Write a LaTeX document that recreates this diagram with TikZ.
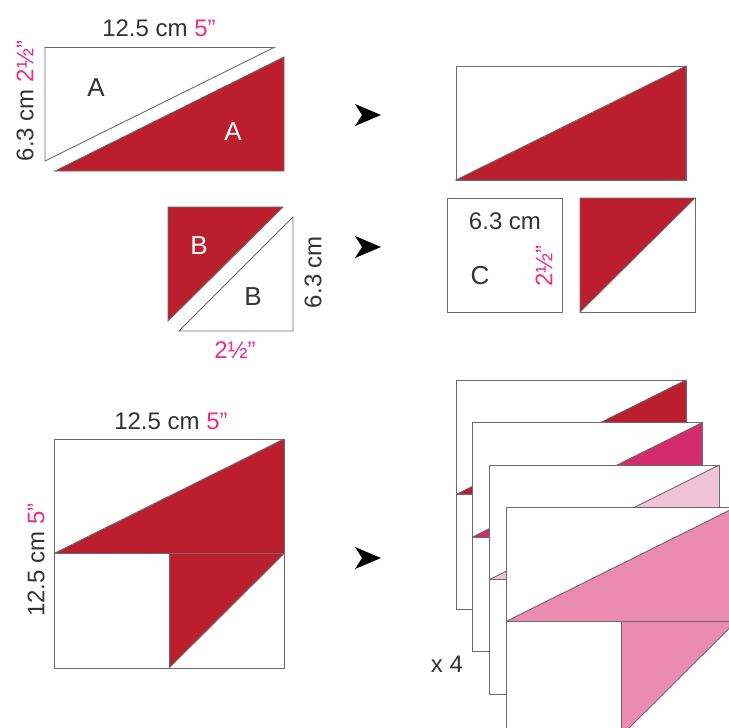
\documentclass[tikz,border=0pt]{standalone}
\usepackage{fontspec}
\setmainfont{Liberation Sans}
\definecolor{qred}{HTML}{BB1E2D}
\definecolor{qmag}{HTML}{D42A6E}
\definecolor{qlpink}{HTML}{F0C3D6}
\definecolor{qmpink}{HTML}{EC8BB0}
\definecolor{qtext}{HTML}{E8308A}
\definecolor{qline}{HTML}{6E6A6C}
\definecolor{qink}{HTML}{333333}
\tikzset{
  piece/.style={draw=qline, line width=0.9pt, line join=miter},
  lbl/.style={text=qink, font=\fontsize{24}{28}\selectfont, inner sep=0pt},
  letter/.style={font=\fontsize{26}{30}\selectfont, inner sep=0pt},
  arrowmark/.style={fill=black},
}
\newcommand{\pk}[1]{{\color{qtext}#1}}
\newcommand{\qblock}[3]{%
  \begin{scope}[shift={(#1,#2)}]
    \fill[white] (0,0) rectangle (230,229);
    \fill[#3] (0,114.5) -- (230,0) -- (230,114.5) -- (115,229) -- (115,114.5) -- cycle;
    \draw[piece] (0,0) rectangle (230,229);
    \draw[piece] (0,114.5) -- (230,0);
    \draw[piece] (0,114.5) -- (230,114.5);
    \draw[piece] (115,114.5) -- (115,229);
    \draw[piece] (115,229) -- (230,114.5);
  \end{scope}}
\begin{document}
\begin{tikzpicture}[x=1pt,y=-1pt]
\useasboundingbox (0,0) rectangle (729,728);
\clip (0,0) rectangle (729,728);
\fill[white] (0,0) rectangle (729,728);

% ---- top row: A triangles
\filldraw[piece, fill=white] (45,47.5) -- (274,47.5) -- (45,161) -- cycle;
\filldraw[piece, fill=qred] (55,171) -- (284,171) -- (284,57) -- cycle;
\node[letter, text=qink] (aw) at (96,88) {A};
\node[letter, text=white] (ar) at (233,132) {A};
\node[lbl] (topA) at (159,28) {12.5 cm \pk{5”}};
\node[lbl, rotate=90] (leftA) at (25,101) {6.3 cm \pk{2½”}};

% result rectangle
\filldraw[piece, fill=white] (456,66) rectangle (686,180);
\filldraw[piece, fill=qred] (456,180) -- (686,66) -- (686,180) -- cycle;

% ---- middle row: B triangles
\filldraw[piece, fill=qred] (168,207) -- (283,207) -- (168,321) -- cycle;
\filldraw[piece, fill=white] (179,331) -- (293,331) -- (293,217) -- cycle;
\node[letter, text=white] (br) at (199,246) {B};
\node[letter, text=qink] (bw) at (253,297) {B};
\node[lbl, rotate=90] (rightB) at (313,272) {6.3 cm};
\node[lbl] (botB) at (235,350) {\pk{2½”}};

% C square and B square
\filldraw[piece, fill=white] (447,198) rectangle (562,312);
\node[lbl] (topC) at (505,221) {6.3 cm};
\node[letter, text=qink] (c) at (480,276) {C};
\node[lbl, rotate=90] (rightC) at (544,266) {\pk{2½”}};
\filldraw[piece, fill=white] (580,198) rectangle (695,312);
\filldraw[piece, fill=qred] (580,198) -- (695,198) -- (580,312) -- cycle;

% ---- bottom row: big block
\qblock{54}{439}{qred}
\node[lbl] (topD) at (171,421) {12.5 cm \pk{5”}};
\node[lbl, rotate=90] (leftD) at (36,560) {12.5 cm \pk{5”}};

% stacked blocks
\qblock{456}{380}{qred}
\qblock{472.5}{422.5}{qmag}
\qblock{489.5}{465}{qlpink}
\qblock{506}{507}{qmpink}
\node[lbl] (times) at (447,664) {x 4};

% arrows
\fill[arrowmark] (355,104) -- (381,115) -- (355,126) -- (362,115) -- cycle;
\fill[arrowmark] (355,236) -- (381,247) -- (355,258) -- (362,247) -- cycle;
\fill[arrowmark] (355,547) -- (381,558) -- (355,569) -- (362,558) -- cycle;
\end{tikzpicture}
\end{document}
